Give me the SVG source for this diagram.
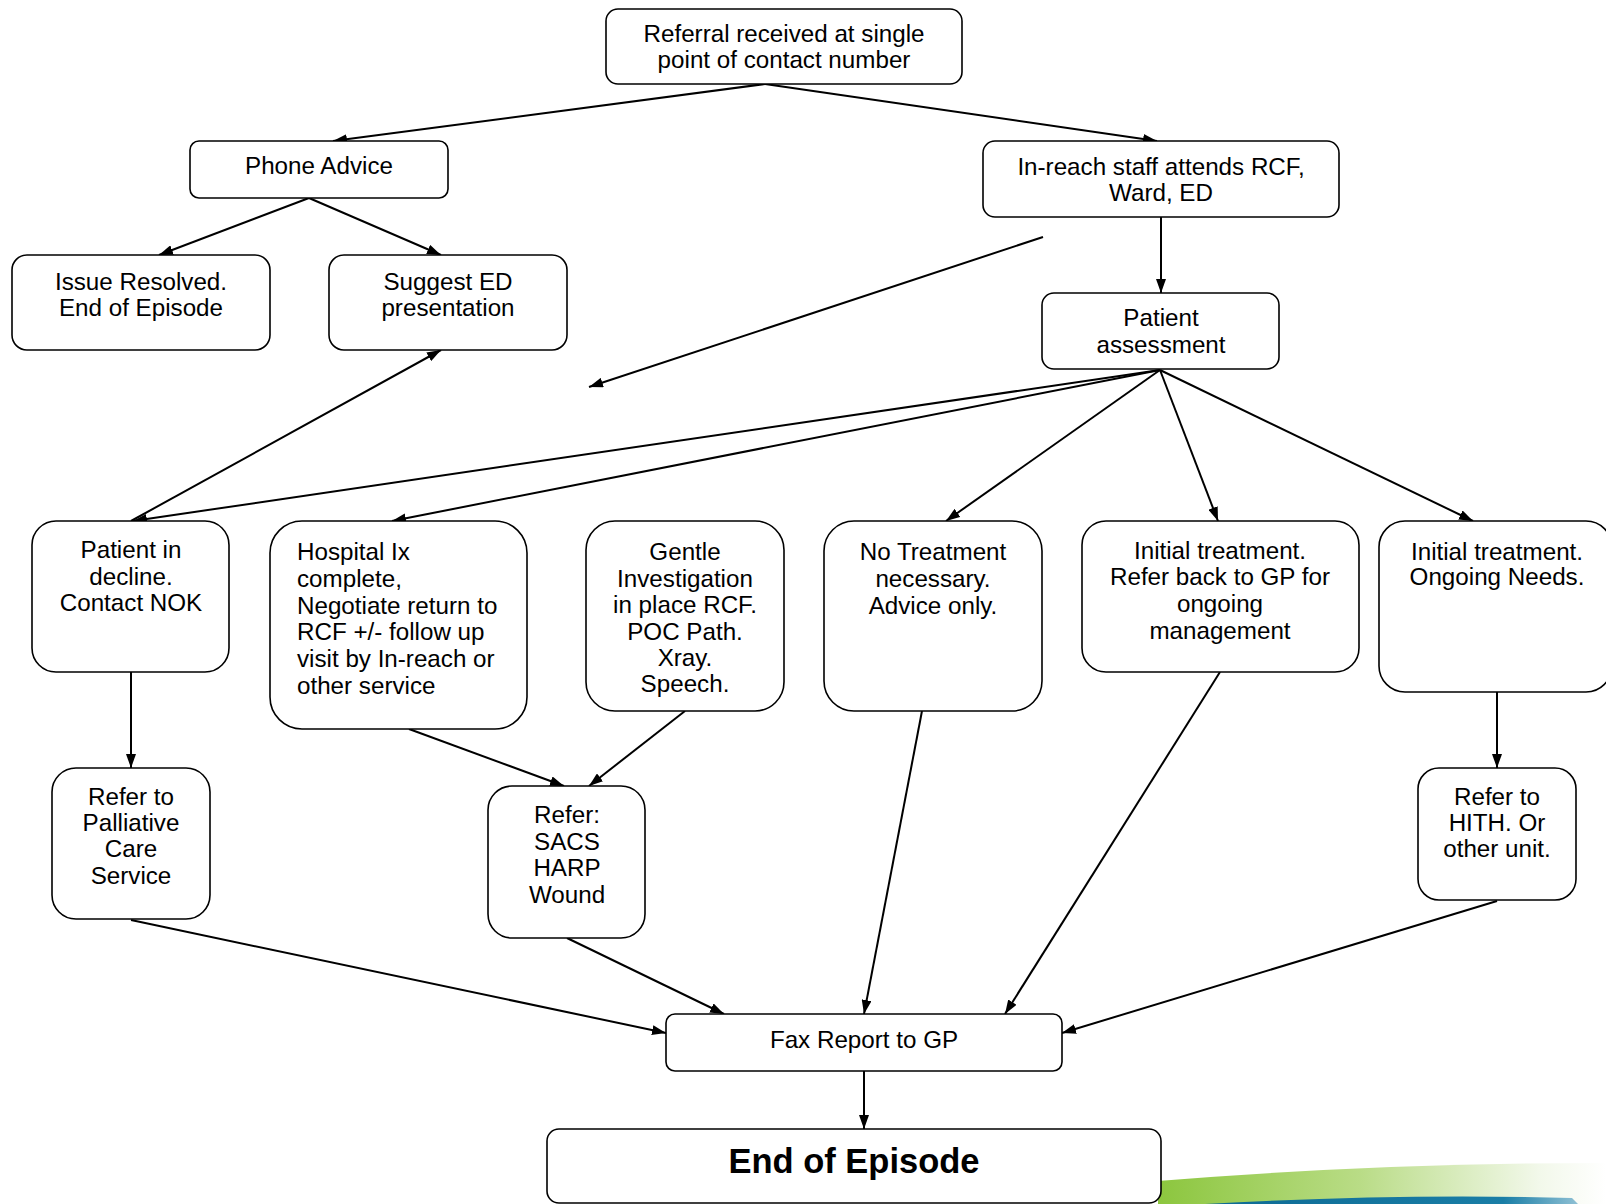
<svg xmlns="http://www.w3.org/2000/svg" width="1606" height="1204" viewBox="0 0 1606 1204">
<style>
.box{fill:#fff;stroke:#000;stroke-width:1.6}
.t{font-family:"Liberation Sans",Arial,sans-serif;font-size:24.2px;fill:#000;text-anchor:middle}
.tl{text-anchor:start}
.b{font-weight:bold;font-size:34.5px}
.c{stroke:#000;stroke-width:2;fill:none;marker-end:url(#ah)}
</style>
<defs>
<marker id="ah" viewBox="0 0 14 10" refX="14" refY="5" markerWidth="14" markerHeight="10" markerUnits="userSpaceOnUse" orient="auto">
<path d="M0,0 L14,5 L0,10 Z" fill="#000"/>
</marker>
<linearGradient id="gr" x1="0" y1="0" x2="1" y2="0">
<stop offset="0" stop-color="#8cc63e"/>
<stop offset="0.45" stop-color="#b9dc86"/>
<stop offset="0.85" stop-color="#f2f8ea"/>
<stop offset="1" stop-color="#ffffff"/>
</linearGradient>
<linearGradient id="bl" x1="0" y1="0" x2="1" y2="0">
<stop offset="0" stop-color="#0d6a94"/>
<stop offset="0.8" stop-color="#1a7ea6"/>
<stop offset="1" stop-color="#8fc0d4"/>
</linearGradient>
</defs>

<g id="decoration">
<path d="M1158,1204 L1158,1181 Q1380,1163 1606,1163 L1606,1204 Z" fill="url(#gr)"/>
<path d="M1205,1204 Q1400,1193 1572,1198 L1578,1204 Z" fill="url(#bl)"/>
</g>

<g id="connectors">
<line class="c" x1="765" y1="84" x2="333" y2="141"/>
<line class="c" x1="765" y1="84" x2="1157" y2="141"/>
<line class="c" x1="309" y1="198" x2="159" y2="255"/>
<line class="c" x1="309" y1="198" x2="441" y2="255"/>
<line class="c" x1="1161" y1="217" x2="1161" y2="293"/>
<line class="c" x1="1043" y1="237" x2="589" y2="387"/>
<line class="c" x1="131" y1="521" x2="441" y2="350"/>
<line class="c" x1="1160" y1="370" x2="133" y2="521"/>
<line class="c" x1="1160" y1="370" x2="392" y2="521"/>
<line class="c" x1="1160" y1="370" x2="946" y2="521"/>
<line class="c" x1="1160" y1="370" x2="1218" y2="521"/>
<line class="c" x1="1160" y1="370" x2="1473" y2="521"/>
<line class="c" x1="131" y1="672" x2="131" y2="768"/>
<line class="c" x1="409" y1="729" x2="564" y2="786"/>
<line class="c" x1="685" y1="711" x2="589" y2="786"/>
<line class="c" x1="1497" y1="692" x2="1497" y2="768"/>
<line class="c" x1="131" y1="920" x2="666" y2="1033"/>
<line class="c" x1="567" y1="938" x2="724" y2="1014"/>
<line class="c" x1="922" y1="711" x2="864" y2="1014"/>
<line class="c" x1="1220" y1="672" x2="1005" y2="1014"/>
<line class="c" x1="1497" y1="901" x2="1062" y2="1033"/>
<line class="c" x1="864" y1="1071" x2="864" y2="1129"/>
</g>

<g id="n-referral">
<rect class="box" x="606" y="9" width="356" height="75" rx="12"/>
<text class="t" x="784" y="42">Referral received at single</text>
<text class="t" x="784" y="68">point of contact number</text>
</g>
<g id="n-phone">
<rect class="box" x="190" y="141" width="258" height="57" rx="9"/>
<text class="t" x="319" y="174">Phone Advice</text>
</g>
<g id="n-issue">
<rect class="box" x="12" y="255" width="258" height="95" rx="15"/>
<text class="t" x="141" y="290">Issue Resolved.</text>
<text class="t" x="141" y="316">End of Episode</text>
</g>
<g id="n-suggest">
<rect class="box" x="329" y="255" width="238" height="95" rx="15"/>
<text class="t" x="448" y="290">Suggest ED</text>
<text class="t" x="448" y="316">presentation</text>
</g>
<g id="n-inreach">
<rect class="box" x="983" y="141" width="356" height="76" rx="12"/>
<text class="t" x="1161" y="175">In-reach staff attends RCF,</text>
<text class="t" x="1161" y="201">Ward, ED</text>
</g>
<g id="n-assess">
<rect class="box" x="1042" y="293" width="237" height="76" rx="12"/>
<text class="t" x="1161" y="326">Patient</text>
<text class="t" x="1161" y="353">assessment</text>
</g>
<g id="n-decline">
<rect class="box" x="32" y="521" width="197" height="151" rx="24"/>
<text class="t" x="131" y="558">Patient in</text>
<text class="t" x="131" y="585">decline.</text>
<text class="t" x="131" y="611">Contact NOK</text>
</g>
<g id="n-hospital">
<rect class="box" x="270" y="521" width="257" height="208" rx="32"/>
<text class="t tl" x="297" y="560">Hospital Ix</text>
<text class="t tl" x="297" y="587">complete,</text>
<text class="t tl" x="297" y="614">Negotiate return to</text>
<text class="t tl" x="297" y="640">RCF +/- follow up</text>
<text class="t tl" x="297" y="667">visit by In-reach or</text>
<text class="t tl" x="297" y="694">other service</text>
</g>
<g id="n-gentle">
<rect class="box" x="586" y="521" width="198" height="190" rx="29"/>
<text class="t" x="685" y="560">Gentle</text>
<text class="t" x="685" y="587">Investigation</text>
<text class="t" x="685" y="613">in place RCF.</text>
<text class="t" x="685" y="640">POC Path.</text>
<text class="t" x="685" y="666">Xray.</text>
<text class="t" x="685" y="692">Speech.</text>
</g>
<g id="n-notreat">
<rect class="box" x="824" y="521" width="218" height="190" rx="30"/>
<text class="t" x="933" y="560">No Treatment</text>
<text class="t" x="933" y="587">necessary.</text>
<text class="t" x="933" y="614">Advice only.</text>
</g>
<g id="n-initgp">
<rect class="box" x="1082" y="521" width="277" height="151" rx="24"/>
<text class="t" x="1220" y="559">Initial treatment.</text>
<text class="t" x="1220" y="585">Refer back to GP for</text>
<text class="t" x="1220" y="612">ongoing</text>
<text class="t" x="1220" y="639">management</text>
</g>
<g id="n-initongoing">
<rect class="box" x="1379" y="521" width="233" height="171" rx="26"/>
<text class="t" x="1497" y="560">Initial treatment.</text>
<text class="t" x="1497" y="585">Ongoing Needs.</text>
</g>
<g id="n-palliative">
<rect class="box" x="52" y="768" width="158" height="151" rx="24"/>
<text class="t" x="131" y="805">Refer to</text>
<text class="t" x="131" y="831">Palliative</text>
<text class="t" x="131" y="857">Care</text>
<text class="t" x="131" y="884">Service</text>
</g>
<g id="n-sacs">
<rect class="box" x="488" y="786" width="157" height="152" rx="24"/>
<text class="t" x="567" y="823">Refer:</text>
<text class="t" x="567" y="850">SACS</text>
<text class="t" x="567" y="876">HARP</text>
<text class="t" x="567" y="903">Wound</text>
</g>
<g id="n-hith">
<rect class="box" x="1418" y="768" width="158" height="132" rx="21"/>
<text class="t" x="1497" y="805">Refer to</text>
<text class="t" x="1497" y="831">HITH. Or</text>
<text class="t" x="1497" y="857">other unit.</text>
</g>
<g id="n-fax">
<rect class="box" x="666" y="1014" width="396" height="57" rx="9"/>
<text class="t" x="864" y="1048">Fax Report to GP</text>
</g>
<g id="n-end">
<rect class="box" x="547" y="1129" width="614" height="74" rx="12"/>
<text class="t b" x="854" y="1173">End of Episode</text>
</g>
</svg>
